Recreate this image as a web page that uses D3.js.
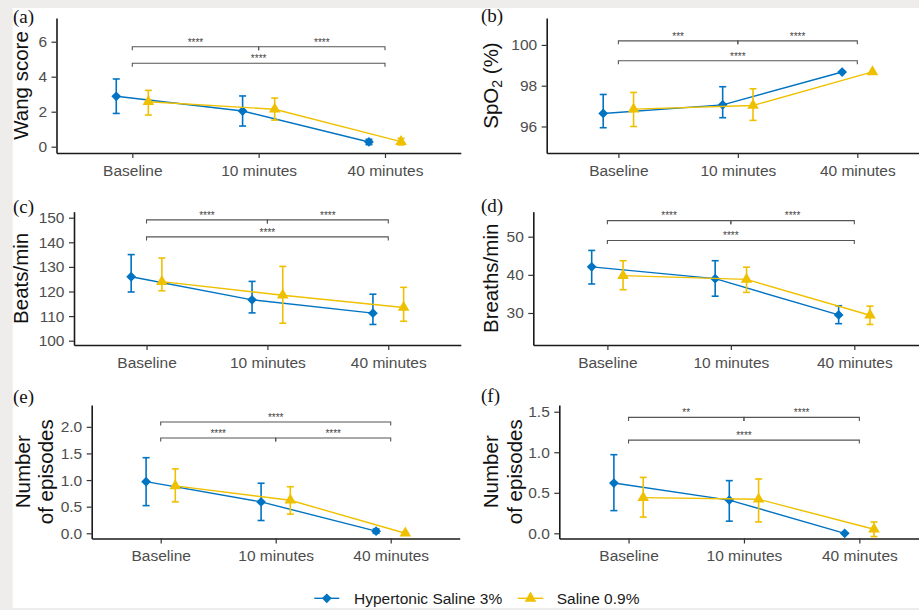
<!DOCTYPE html>
<html>
<head>
<meta charset="utf-8">
<script src="https://cdn.jsdelivr.net/npm/d3@7"></script>
<style>
    html, body { margin: 0; padding: 0; background: #eeedeb; }
    svg { display: block; }
</style>
</head>
<body>
<svg id="chart" width="919" height="610"></svg>
<script>
const timepoints = ["Baseline", "10 minutes", "40 minutes"]
const groups = ["Hypertonic Saline 3%", "Saline 0.9%"]
const groupColors = ["#0073C2", "#EFC000"]

// one row per group: [hypertonic, saline]; values at Baseline, 10 min, 40 min
const wangMean = [[2.88, 2.04, 0.27], [2.57, 2.14, 0.29]]
const wangLow = [[1.9, 1.18, 0.12], [1.81, 1.52, 0.1]]
const wangHigh = [[3.87, 2.9, 0.42], [3.22, 2.78, 0.48]]

const spo2Mean = [[96.64, 97.06, 98.67], [96.85, 97.03, 98.68]]
const spo2Low = [[95.94, 96.43, 98.67], [96.0, 96.3, 98.68]]
const spo2High = [[97.57, 97.95, 98.67], [97.67, 97.85, 98.68]]

const hrMean = [[126.0, 116.6, 111.2], [124.0, 118.5, 113.5]]
const hrLow = [[119.8, 111.3, 106.6], [120.3, 107.1, 107.9]]
const hrHigh = [[135.0, 124.1, 118.9], [133.6, 130.2, 121.7]]

const rrMean = [[42.1, 39.0, 29.5], [39.8, 38.8, 29.4]]
const rrLow = [[37.6, 34.4, 27.2], [36.1, 35.4, 27.0]]
const rrHigh = [[46.4, 43.7, 31.9], [43.7, 42.0, 31.8]]

const episodesEMean = [[0.97, 0.59, 0.04], [0.89, 0.62, 0.0]]
const episodesELow = [[0.52, 0.24, 0.0], [0.59, 0.36, 0.0]]
const episodesEHigh = [[1.42, 0.94, 0.08], [1.21, 0.875, 0.0]]

const episodesFMean = [[0.62, 0.41, 0.0], [0.44, 0.42, 0.05]]
const episodesFLow = [[0.28, 0.15, 0.0], [0.2, 0.14, -0.04]]
const episodesFHigh = [[0.97, 0.65, 0.0], [0.69, 0.67, 0.14]]

// comparisons: [from index, to index, label, bracket height]
const sigA = [[0, 1, "****", 5.71], [1, 2, "****", 5.71], [0, 2, "****", 4.77]]
const sigB = [[0, 1, "***", 100.2], [1, 2, "****", 100.2], [0, 2, "****", 99.22]]
const sigC = [[0, 1, "****", 149.1], [1, 2, "****", 149.1], [0, 2, "****", 142.2]]
const sigD = [[0, 1, "****", 54.2], [1, 2, "****", 54.2], [0, 2, "****", 49.0]]
const sigE = [[0, 2, "****", 2.09], [0, 1, "****", 1.79], [1, 2, "****", 1.79]]
const sigF = [[0, 1, "**", 1.43], [1, 2, "****", 1.43], [0, 2, "****", 1.15]]

const ticksA = [0, 2, 4, 6]
const ticksB = [96, 98, 100]
const ticksC = [100, 110, 120, 130, 140, 150]
const ticksD = [30, 40, 50]
const ticksE = [0, 0.5, 1, 1.5, 2]
const ticksF = [0, 0.5, 1, 1.5]

const panels = [
    { letter: "(a)", lx: 13, ly: 23, x0: 56.5, x1: 460.8, top: 18, bottom: 153, yDomain: [-0.36, 7.354], ticks: ticksA, fmt: d3.format("d"),
      title: ["Wang score"], titleX: [28.3], mean: wangMean, low: wangLow, high: wangHigh, sig: sigA },
    { letter: "(b)", lx: 481, ly: 22, x0: 546.7, x1: 929, top: 18, bottom: 153, yDomain: [94.7, 101.32], ticks: ticksB, fmt: d3.format("d"),
      title: ["SpO2"], titleX: [498.3], mean: spo2Mean, low: spo2Low, high: spo2High, sig: sigB },
    { letter: "(c)", lx: 13, ly: 213, x0: 74, x1: 460.8, top: 211.7, bottom: 345, yDomain: [98.25, 152.44], ticks: ticksC, fmt: d3.format("d"),
      title: ["Beats/min"], titleX: [28.3], mean: hrMean, low: hrLow, high: hrHigh, sig: sigC },
    { letter: "(d)", lx: 481, ly: 212, x0: 533.3, x1: 928.4, top: 211.7, bottom: 345, yDomain: [21.61, 56.55], ticks: ticksD, fmt: d3.format("d"),
      title: ["Breaths/min"], titleX: [498.3], mean: rrMean, low: rrLow, high: rrHigh, sig: sigD },
    { letter: "(e)", lx: 13, ly: 403, x0: 91.7, x1: 459.7, top: 405, bottom: 538.5, yDomain: [-0.098, 2.41], ticks: ticksE, fmt: d3.format(".1f"),
      title: ["Number", "of episodes"], titleX: [30, 53.3], mean: episodesEMean, low: episodesELow, high: episodesEHigh, sig: sigE },
    { letter: "(f)", lx: 481, ly: 402, x0: 559.3, x1: 928.6, top: 405, bottom: 538.5, yDomain: [-0.064, 1.583], ticks: ticksF, fmt: d3.format(".1f"),
      title: ["Number", "of episodes"], titleX: [498.3, 521.7], mean: episodesFMean, low: episodesFLow, high: episodesFHigh, sig: sigF },
]

const svg = d3.select("#chart")
const sans = "'Liberation Sans', Arial, sans-serif"

svg.append("rect").attr("x", 12.7).attr("y", 8).attr("width", 919 - 12.7).attr("height", 600).attr("fill", "#ffffff")

// ggplot-like markers: filled diamond (square turned 45deg) and filled triangle
const diamond = d3.symbol().type(d3.symbolSquare).size(48)
const triangle = d3.symbol().type(d3.symbolTriangle).size(58)
const markerPath = (gi) => (gi === 0 ? diamond() : triangle())
const markerTurn = (gi) => (gi === 0 ? " rotate(45)" : "")

const dodge = 0.127

panels.forEach((p) => {
    const g = svg.append("g")
    const x = d3.scalePoint().domain(timepoints).range([p.x0, p.x1]).padding(0.6)
    const y = d3.scaleLinear().domain(p.yDomain).range([p.bottom, p.top])
    const step = x.step()

    // panel tag
    g.append("text").attr("x", p.lx).attr("y", p.ly)
        .attr("font-family", "'Liberation Serif', 'Times New Roman', serif").attr("font-size", 19).attr("fill", "#111")
        .text(p.letter)

    // axes
    const yAxis = g.append("g").attr("transform", `translate(${p.x0},0)`)
        .call(d3.axisLeft(y).tickValues(p.ticks).tickFormat(p.fmt).tickSize(5).tickSizeOuter(0).tickPadding(4.5))
    const xAxis = g.append("g").attr("transform", `translate(0,${p.bottom})`)
        .call(d3.axisBottom(x).tickSize(5).tickSizeOuter(0).tickPadding(6.5))
    ;[yAxis, xAxis].forEach((ax) => {
        ax.select(".domain").attr("stroke", "#1a1a1a").attr("stroke-width", 1.6)
        ax.selectAll(".tick line").attr("stroke", "#333").attr("stroke-width", 1.2)
        ax.selectAll(".tick text").attr("fill", "#4d4d4d").attr("font-size", 15.5).attr("font-family", sans)
    })

    // y title
    const midY = (p.top + p.bottom) / 2
    p.title.forEach((line, i) => {
        const t = g.append("text")
            .attr("transform", `translate(${p.titleX[i]},${midY}) rotate(-90)`)
            .attr("text-anchor", "middle").attr("font-family", sans).attr("font-size", 20.5).attr("fill", "#111")
        if (line === "SpO2") {
            t.append("tspan").text("SpO")
            t.append("tspan").attr("font-size", 14).attr("dy", 4).text("2")
            t.append("tspan").attr("dy", -4).text(" (%)")
        } else {
            t.text(line)
        }
    })

    // significance brackets
    p.sig.forEach(([a, b, label, h]) => {
        const xa = x(timepoints[a])
        const xb = x(timepoints[b])
        const yy = y(h)
        g.append("path")
            .attr("d", `M${xa},${yy + 3.5}V${yy}H${xb}V${yy + 3.5}`)
            .attr("fill", "none").attr("stroke", "#555").attr("stroke-width", 1.1)
        g.append("text").attr("x", (xa + xb) / 2).attr("y", yy - 1.2)
            .attr("text-anchor", "middle").attr("font-family", sans).attr("font-size", 10).attr("fill", "#444")
            .text(label)
    })

    // series
    groups.forEach((grp, gi) => {
        const off = (gi === 0 ? -dodge : dodge) * step
        const pts = timepoints.map((tp, i) => ({
            cx: x(tp) + off,
            mean: p.mean[gi][i],
            low: p.low[gi][i],
            high: p.high[gi][i],
        }))
        const color = groupColors[gi]
        const sg = g.append("g")

        sg.append("path").datum(pts)
            .attr("d", d3.line().x((d) => d.cx).y((d) => y(d.mean)))
            .attr("fill", "none").attr("stroke", color).attr("stroke-width", 1.4)

        const eb = sg.selectAll(".eb").data(pts).enter().append("g")
        eb.append("line").attr("x1", (d) => d.cx).attr("x2", (d) => d.cx)
            .attr("y1", (d) => y(d.low)).attr("y2", (d) => y(d.high))
            .attr("stroke", color).attr("stroke-width", 1.6)
        ;["low", "high"].forEach((k) => {
            eb.append("line").attr("x1", (d) => d.cx - 3.5).attr("x2", (d) => d.cx + 3.5)
                .attr("y1", (d) => y(d[k])).attr("y2", (d) => y(d[k]))
                .attr("stroke", color).attr("stroke-width", 1.6)
        })

        sg.selectAll(".pt").data(pts).enter().append("path")
            .attr("d", markerPath(gi))
            .attr("transform", (d) => `translate(${d.cx},${y(d.mean)})` + markerTurn(gi))
            .attr("fill", color)
    })
})

// legend
const legendItems = [
    { x0: 314.3, x1: 339.3, tx: 354 },
    { x0: 517.7, x1: 543.3, tx: 556.7 },
]
const legendY = 598.3
groups.forEach((grp, gi) => {
    const it = legendItems[gi]
    const lg = svg.append("g")
    lg.append("line").attr("x1", it.x0).attr("x2", it.x1).attr("y1", legendY).attr("y2", legendY)
        .attr("stroke", groupColors[gi]).attr("stroke-width", 1.4)
    lg.append("path").attr("d", markerPath(gi))
        .attr("transform", `translate(${(it.x0 + it.x1) / 2},${legendY})` + markerTurn(gi))
        .attr("fill", groupColors[gi])
    lg.append("text").attr("x", it.tx).attr("y", legendY).attr("dy", "0.36em")
        .attr("font-family", sans).attr("font-size", 15.5).attr("fill", "#1a1a1a")
        .text(grp)
})
</script>
</body>
</html>
